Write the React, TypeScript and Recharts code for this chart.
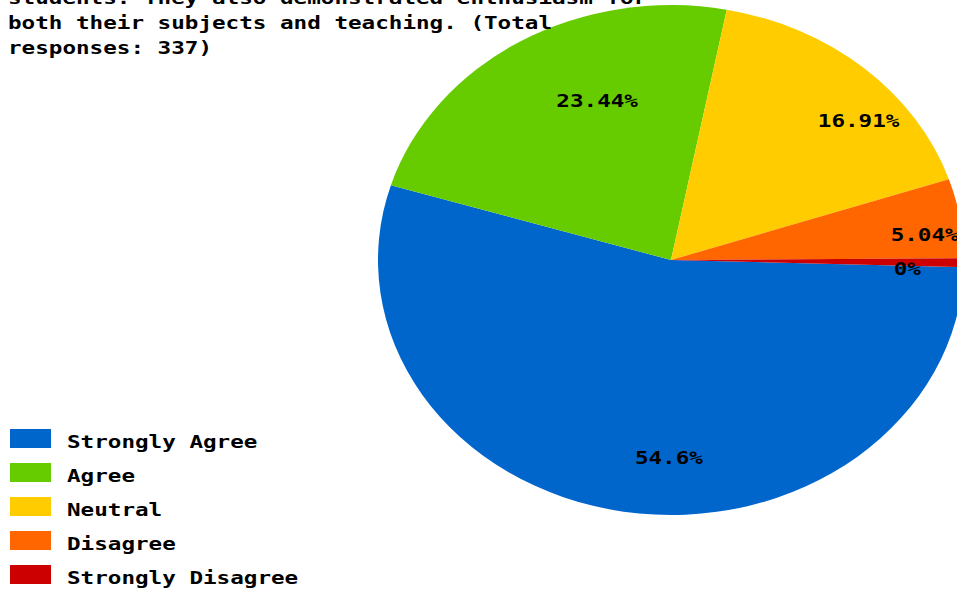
import { Cell, Legend, Pie, PieChart } from 'recharts';

// survey answers, total 337 responses
const categories = ['Strongly Agree', 'Agree', 'Neutral', 'Disagree', 'Strongly Disagree'];
const responses = [184, 79, 57, 17, 0];
const percentLabels = ['54.6%', '23.44%', '16.91%', '5.04%', '0%'];
const colors = ['#0066CC', '#66CC00', '#FFCC00', '#FF6600', '#CC0000'];
const titleLines = [
  'students. They also demonstrated enthusiasm for',
  'both their subjects and teaching. (Total',
  'responses: 337)',
];

// the source tool still draws a thin sliver for an empty answer
const EMPTY_SLIVER = 1.9;

const W = 957;
const H = 591;
const CX = 671;
const CY = 260;
const R = 255;
const STRETCH = 1.149; // pie is an ellipse, wider than tall
const CHAR_W = 13.6;
const FONT = '"DejaVu Sans Mono", monospace';

const rows = categories.map((name, i) => ({
  name,
  value: responses[i] || EMPTY_SLIVER,
  label: percentLabels[i],
}));

function renderLabel(p: any) {
  const rad = (p.midAngle * Math.PI) / 180;
  const d = R * 0.76;
  const x = p.cx + Math.cos(rad) * d * STRETCH;
  const y = p.cy - Math.sin(rad) * d;
  const text = percentLabels[p.index];
  return (
    <text
      key={p.index}
      x={x}
      y={y + 13}
      fontFamily={FONT}
      fontWeight="bold"
      fontSize={18}
      fill="#000"
      textLength={text.length * CHAR_W}
      lengthAdjust="spacingAndGlyphs"
    >
      {text}
    </text>
  );
}

function LegendBox() {
  return (
    <div style={{ position: 'relative', width: 320, height: 170 }}>
      {categories.map((c, i) => (
        <div key={c} style={{ position: 'absolute', left: 0, top: i * 34, height: 34, width: 320 }}>
          <div
            style={{
              position: 'absolute',
              left: 10,
              top: 0,
              width: 41,
              height: 19,
              background: colors[i],
            }}
          />
          <span
            style={{
              position: 'absolute',
              left: 67,
              top: 4,
              fontFamily: FONT,
              fontWeight: 'bold',
              fontSize: 18,
              lineHeight: '18px',
              whiteSpace: 'nowrap',
              color: '#000',
              transform: `scaleX(${CHAR_W / (0.602 * 18)})`,
              transformOrigin: 'left',
            }}
          >
            {c}
          </span>
        </div>
      ))}
    </div>
  );
}

export default function App() {
  return (
    <div
      style={{
        position: 'fixed',
        left: 0,
        top: 0,
        width: W,
        height: H,
        background: '#fff',
        overflow: 'hidden',
      }}
    >
      <PieChart width={W} height={H} margin={{ top: 0, right: 0, bottom: 0, left: 0 }}>
        <Pie
          data={rows}
          dataKey="value"
          nameKey="name"
          cx={CX}
          cy={CY}
          outerRadius={R}
          startAngle={-1.6}
          endAngle={-361.6}
          stroke="none"
          labelLine={false}
          label={renderLabel}
          isAnimationActive={false}
        >
          {rows.map((_, i) => (
            <Cell
              key={i}
              fill={colors[i]}
              style={{ transform: `scale(${STRETCH}, 1)`, transformOrigin: `${CX}px ${CY}px` }}
            />
          ))}
        </Pie>
        <Legend
          content={() => <LegendBox />}
          wrapperStyle={{ position: 'absolute', left: 0, top: 429, width: 320 }}
        />
      </PieChart>
      <svg
        width={W}
        height={70}
        style={{ position: 'absolute', left: 0, top: 0, pointerEvents: 'none' }}
      >
        {titleLines.map((t, i) => (
          <text
            key={i}
            x={8}
            y={4 + i * 25}
            fontFamily={FONT}
            fontWeight="bold"
            fontSize={18}
            fill="#000"
            textLength={t.length * CHAR_W}
            lengthAdjust="spacingAndGlyphs"
          >
            {t}
          </text>
        ))}
      </svg>
    </div>
  );
}
